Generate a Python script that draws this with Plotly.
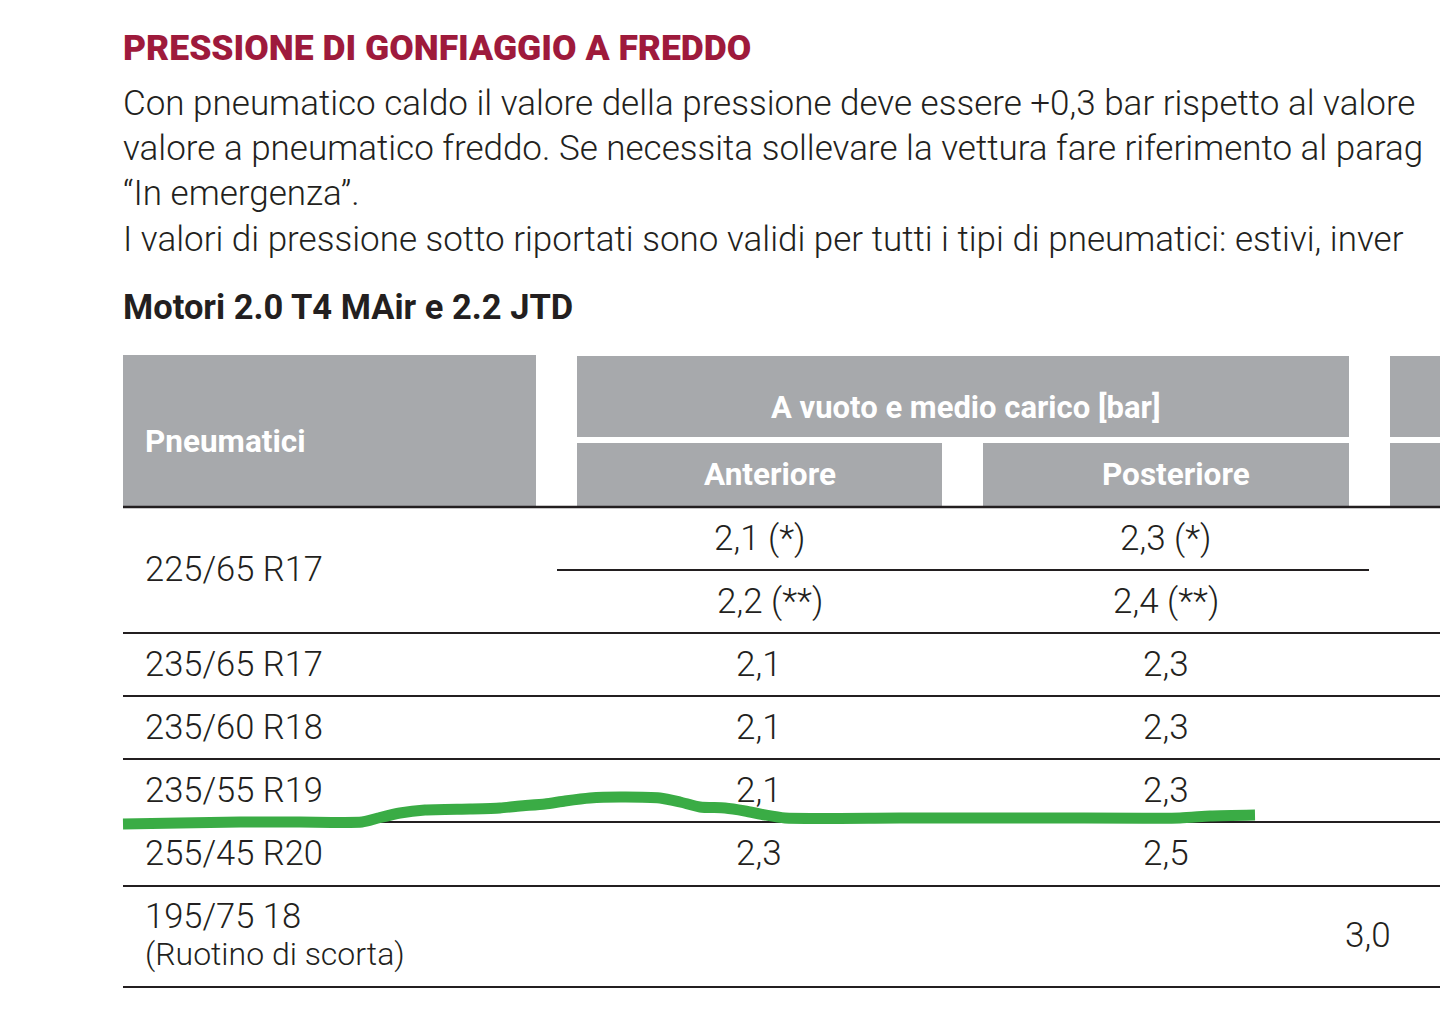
import plotly.graph_objects as go

# Testi della pagina (come si vedono, tagliati sul bordo destro)
titolo = "PRESSIONE DI GONFIAGGIO A FREDDO"
paragrafo = [
    "Con pneumatico caldo il valore della pressione deve essere +0,3 bar rispetto al valore",
    "valore a pneumatico freddo. Se necessita sollevare la vettura fare riferimento al parag",
    "“In emergenza”.",
    "I valori di pressione sotto riportati sono validi per tutti i tipi di pneumatici: estivi, inver",
]
sottotitolo = "Motori 2.0 T4 MAir e 2.2 JTD"

# Intestazioni tabella
col_pneumatici = "Pneumatici"
col_gruppo = "A vuoto e medio carico [bar]"
col_anteriore = "Anteriore"
col_posteriore = "Posteriore"

# Dati della tabella
pneumatici = ["225/65 R17", "235/65 R17", "235/60 R18", "235/55 R19", "255/45 R20", "195/75 18"]
nota_ruotino = "(Ruotino di scorta)"
anteriore = [["2,1 (*)", "2,2 (**)"], ["2,1"], ["2,1"], ["2,1"], ["2,3"], []]
posteriore = [["2,3 (*)", "2,4 (**)"], ["2,3"], ["2,3"], ["2,3"], ["2,5"], []]
ruotino = "3,0"

# Tratto verde a mano (x, y in pixel della pagina)
tratto_x = [123, 180, 240, 300, 362, 378, 400, 425, 470, 500, 520, 545, 565, 590, 620, 660, 680, 700, 725, 745, 765, 785, 900, 1050, 1180, 1210, 1255]
tratto_y = [824, 823, 822, 822, 822, 818, 813, 810, 809, 808, 806, 804, 801, 798, 797, 798, 802, 807, 808, 811, 815, 818, 818, 818, 818, 816, 815]

FONT = "Roboto, Liberation Sans, sans-serif"
GRIGIO = "#a7a9ac"
NERO = "#231f20"

fig = go.Figure()

shapes = []
def rett(x0, y0, x1, y1):
    shapes.append(dict(type="rect", xref="x", yref="y", x0=x0, y0=y0, x1=x1, y1=y1,
                       fillcolor=GRIGIO, line=dict(width=0), layer="below"))

def riga(x0, x1, y, w=2):
    shapes.append(dict(type="line", xref="x", yref="y", x0=x0, x1=x1, y0=y, y1=y,
                       line=dict(color=NERO, width=w), layer="below"))

# blocchi grigi intestazione
rett(123, 355, 536, 506)
rett(577, 356, 1349, 437)
rett(577, 443, 942, 506)
rett(983, 443, 1349, 506)
rett(1390, 356, 1460, 437)
rett(1390, 443, 1460, 506)

riga(123, 1460, 507, 2.5)
riga(557, 1369, 570, 2)
for y in [633, 696, 759, 822, 886, 987]:
    riga(123, 1460, y, 2)

ann = []
def testo(x, y, t, size, color=NERO, weight=300, anchor="left"):
    ann.append(dict(x=x, y=y, xref="x", yref="y", text=t, showarrow=False,
                    xanchor=anchor, yanchor="middle",
                    font=dict(family=FONT, size=size, color=color, weight=weight)))

testo(121, 48, titolo, 35.5, color="#9e1a3c", weight=900)
for i, r in enumerate(paragrafo):
    testo(121, 103 + i * 45 + (1 if i == 3 else 0), r, 35)
testo(121, 307, sottotitolo, 34.5, weight=700)

testo(143, 441, col_pneumatici, 31.5, color="white", weight=700)
testo(965, 407, col_gruppo, 31, color="white", weight=700, anchor="center")
testo(770, 474, col_anteriore, 31.5, color="white", weight=700, anchor="center")
testo(1176, 474, col_posteriore, 31.5, color="white", weight=700, anchor="center")

centri = [569, 664, 727, 790, 853, 916]
for i, p in enumerate(pneumatici):
    testo(143, centri[i], p, 34.5)
    vals_a = anteriore[i]
    vals_p = posteriore[i]
    if len(vals_a) == 2:
        testo(760, 538, vals_a[0], 35, anchor="center")
        testo(770, 601, vals_a[1], 35, anchor="center")
        testo(1166, 538, vals_p[0], 35, anchor="center")
        testo(1166, 601, vals_p[1], 35, anchor="center")
    elif len(vals_a) == 1:
        testo(759, centri[i], vals_a[0], 35, anchor="center")
        testo(1166, centri[i], vals_p[0], 35, anchor="center")
testo(143, 954, nota_ruotino, 32)
testo(1368, 935, ruotino, 35, anchor="center")

fig.add_trace(go.Scatter(x=tratto_x, y=tratto_y, mode="lines",
                         line=dict(color="#3aac45", width=11, shape="spline", smoothing=0.6),
                         hoverinfo="skip", showlegend=False))

fig.update_layout(
    width=1440, height=1011,
    margin=dict(l=0, r=0, t=0, b=0),
    paper_bgcolor="white", plot_bgcolor="white",
    xaxis=dict(range=[0, 1440], visible=False, fixedrange=True),
    yaxis=dict(range=[1011, 0], visible=False, fixedrange=True),
    shapes=shapes, annotations=ann,
    showlegend=False, hovermode=False,
)

# tolgo il margine del body così la figura copre tutta la finestra
fig.write_html("out.html", config={"displayModeBar": False},
               post_script="document.body.style.margin='0';document.body.style.overflow='hidden';")
